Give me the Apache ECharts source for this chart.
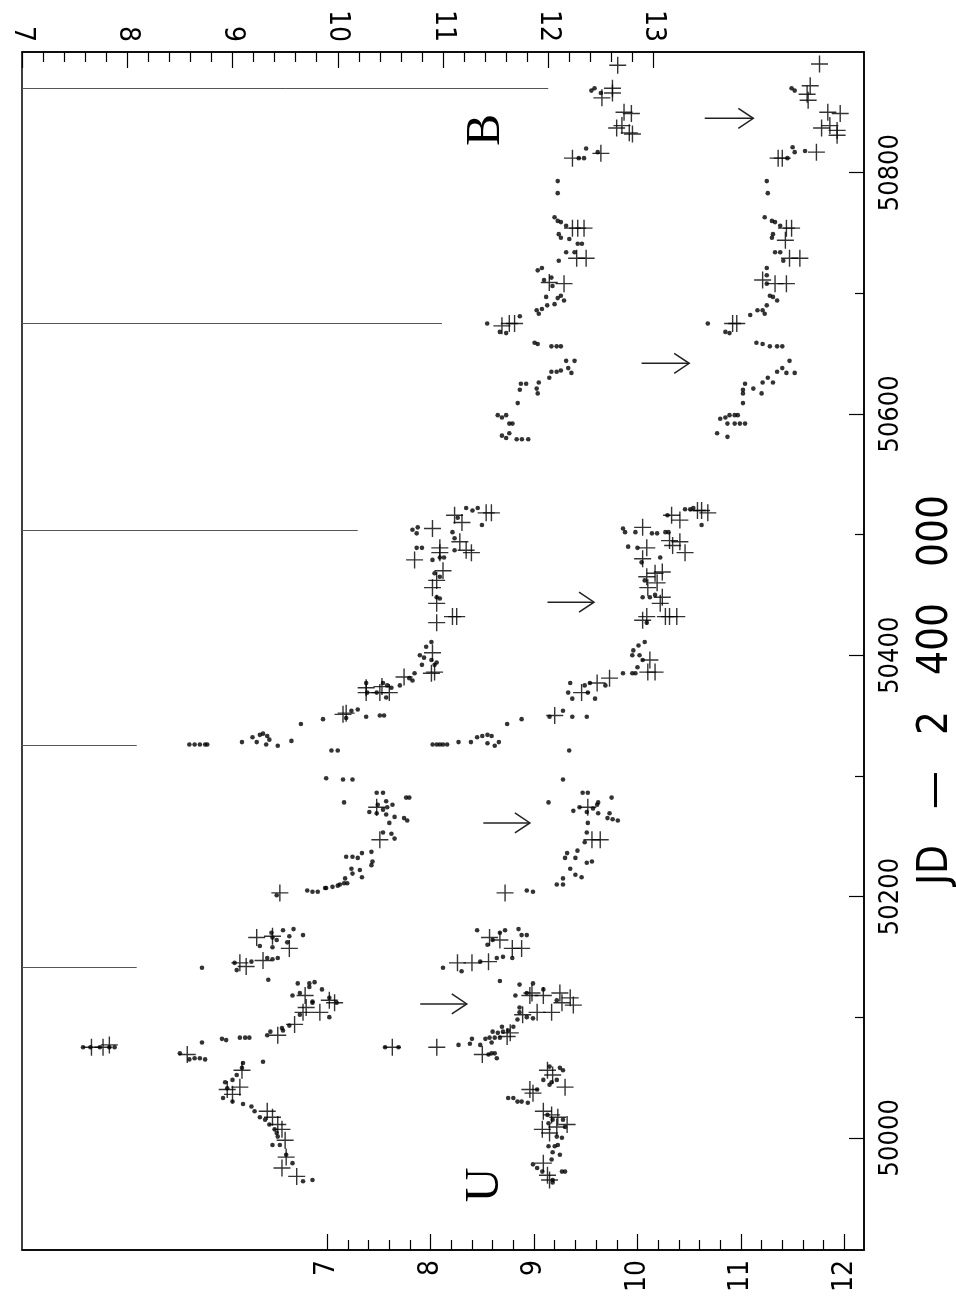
<!DOCTYPE html>
<html>
<head>
<meta charset="utf-8">
<title>U and B light curves</title>
<script src="https://cdn.jsdelivr.net/npm/echarts@6/dist/echarts.min.js"></script>
<style>
html, body { margin: 0; padding: 0; background: #fff; }
#chart-container { width: 956px; height: 1299px; }
</style>
</head>
<body>
<div id="chart-container"></div>
<script>
// plot is drawn on its side: JD - 2400000 runs up the right edge,
// magnitudes run left -> right (U on the bottom axis, B on the top axis)
const jdTicks = [50000, 50200, 50400, 50600, 50800];
const jdMinorTicks = [50100, 50300, 50500, 50700];
const uTicks = [7, 8, 9, 10, 11, 12];
const bTicks = [7, 8, 9, 10, 11, 12, 13];

// [B mag, JD - 2400000]
const bDots = [
  [7.58,50075],[7.65,50075],[7.74,50075],[7.83,50075],[7.88,50075],
  [8.50,50070],[8.59,50065],[8.64,50066],[8.69,50066],[8.74,50065],
  [8.71,50079],[8.90,50082],[8.94,50081],[9.07,50083],[9.12,50083],[9.16,50083],
  [9.33,50085],[9.36,50088],[9.47,50091],[9.48,50089],[9.54,50093],[9.29,50063],
  [9.10,50062],[9.09,50058],[9.04,50052],[9.00,50048],[8.93,50046],[8.95,50041],[8.91,50033],[9.00,50030],[9.10,50028],[9.18,50026],
  [9.21,50022],[9.26,50017],[9.31,50015],[9.35,50011],[9.40,50007],[9.42,50004],[9.43,50001],[9.38,49994],[9.45,49994],
  [9.51,49986],[9.57,49979],[9.67,49964],[9.76,49965],
  [9.64,50102],[9.76,50112],[9.99,50112],[9.92,50100],
  [9.42,50201],[9.71,50205],[9.76,50204],[9.81,50204],[9.89,50207],[9.95,50208],[10.00,50209],
  [9.26,50159],[9.37,50170],[9.38,50166],[9.42,50164],[9.48,50172],[9.54,50167],[9.58,50173],[9.67,50168],[9.38,50158],[9.52,50162],
  [8.71,50141],[9.04,50139],[9.02,50145],[9.18,50146],[9.33,50149],[9.38,50148],[9.43,50149],[9.34,50131],
  [9.62,50128],[9.73,50128],[9.78,50129],[9.73,50125],[9.57,50118],[9.64,50120],[9.85,50123],[9.76,50113],[9.92,50116],
  [10.46,50365],[10.13,50354],[10.19,50355],[10.27,50349],[10.40,50350],[10.44,50350],[10.08,50348],
  [9.86,50347],[9.65,50343],[9.56,50329],
  [9.19,50332],[9.26,50334],[9.29,50335],[9.33,50333],[9.35,50330],[9.23,50328],[9.32,50326],[9.43,50325],[9.09,50328],
  [8.59,50326],[8.64,50326],[8.69,50326],[8.74,50326],[8.76,50326],
  [9.94,50321],[10.00,50321],[9.89,50298],[10.05,50297],[10.14,50297],[10.06,50278],
  [10.37,50286],[10.43,50286],[10.46,50279],[10.38,50276],[10.30,50270],[10.37,50269],[10.43,50272],[10.47,50274],
  [10.52,50276],[10.46,50268],[10.54,50266],[10.49,50261],[10.65,50282],[10.68,50282],[10.63,50265],[10.66,50263],
  [10.43,50253],[10.51,50252],[10.54,50248],
  [10.32,50237],[10.23,50236],[10.08,50233],[10.14,50233],[10.19,50232],[10.33,50229],[10.32,50226],
  [10.13,50223],[10.21,50222],[10.14,50219],[10.23,50216],[10.07,50215],[10.06,50211],[10.09,50211],[10.02,50210],[9.88,50207],
  [11.22,50522],[11.28,50520],[11.33,50522],[11.37,50508],
  [11.14,50514],[10.71,50504],[10.76,50506],[10.75,50501],
  [11.09,50502],[11.11,50497],[11.11,50487],
  [10.75,50489],[10.80,50489],[10.90,50479],[10.97,50481],[11.01,50481],
  [10.92,50468],[10.97,50465],[10.94,50448],[10.97,50447],
  [10.89,50411],[10.84,50407],[10.78,50400],[10.82,50398],[10.89,50396],[10.94,50394],[10.92,50392],[10.80,50392],
  [10.68,50381],[10.73,50385],[10.71,50379],[10.59,50375],
  [10.27,50377],[10.28,50369],[10.43,50377],[10.47,50375],[10.51,50373],[10.37,50369],
  [12.41,50868],[12.44,50870],[12.50,50866],
  [12.29,50812],[12.34,50812],[12.36,50820],[12.47,50817],
  [12.09,50793],[12.09,50783],
  [12.06,50763],[12.09,50760],[12.12,50759],[12.17,50756],[12.10,50749],[12.12,50746],[12.20,50745],[12.28,50741],[12.32,50741],
  [12.17,50734],[12.25,50734],[12.10,50727],
  [11.90,50719],[11.94,50721],[11.96,50711],[12.03,50713],[12.04,50706],
  [11.98,50697],[12.09,50696],[12.15,50694],[12.12,50698],[12.06,50691],[11.99,50690],[11.94,50687],[11.89,50686],[11.91,50683],
  [11.42,50675],[11.54,50668],[11.60,50667],[11.73,50681],
  [11.87,50659],[11.90,50658],[12.03,50656],[12.08,50656],[12.12,50656],
  [12.17,50644],[12.25,50644],[12.03,50635],[12.08,50635],[12.12,50636],[12.19,50638],[12.22,50634],[12.01,50630],
  [11.74,50625],[11.79,50625],[11.91,50626],[11.89,50621],[11.73,50620],[11.90,50617],[11.71,50609],
  [11.52,50599],[11.56,50597],[11.60,50599],[11.63,50592],[11.66,50592],[11.56,50582],[11.60,50580],[11.63,50584],
  [11.70,50579],[11.75,50579],[11.81,50579]
];

const bPlus = [
  [7.66,50075],[7.77,50075],[7.83,50077],[8.57,50069],[9.43,50085],[9.59,50094],
  [9.09,50056],[9.07,50042],[8.95,50040],[9.00,50036],
  [9.33,50022],[9.38,50017],[9.43,50011],[9.47,50007],[9.50,49998],
  [9.51,49984],[9.47,49975],[9.61,49968],[9.83,50104],[9.67,50104],
  [9.45,50203],[9.23,50166],[9.38,50167],[9.54,50157],[9.07,50145],[9.13,50142],[9.29,50147],
  [9.69,50118],[9.92,50114],[9.97,50112],[9.70,50108],
  [10.27,50369],[10.40,50369],[10.49,50369],[10.05,50351],[10.37,50274],[10.40,50247],
  [11.41,50518],[11.46,50518],[11.11,50516],[11.18,50510],[10.90,50505],[11.16,50494],[11.22,50487],[11.27,50485],
  [10.97,50489],[10.97,50485],[10.73,50479],[11.00,50470],[10.94,50462],[10.90,50456],[10.94,50443],
  [11.09,50432],[11.13,50432],[10.94,50427],[10.90,50402],[10.92,50386],[10.89,50385],[10.63,50382],
  [10.42,50374],[10.27,50373],[10.08,50352],
  [12.66,50889],[12.51,50862],[12.61,50870],[12.61,50866],[12.72,50850],[12.79,50849],[12.65,50837],[12.70,50839],
  [12.77,50833],[12.80,50832],[12.23,50812],[12.50,50816],[12.23,50754],[12.28,50754],[12.34,50754],
  [12.27,50729],[12.36,50729],[12.01,50709],[12.15,50708],[11.63,50675],[11.68,50675],[11.56,50673]
];

// [U mag, JD - 2400000]
const uDots = [
  [7.56,50075],[7.69,50075],
  [8.27,50077],[8.38,50078],[8.48,50077],[8.40,50082],
  [8.56,50069],[8.59,50070],[8.64,50066],[8.62,50070],
  [8.53,50082],[8.57,50083],[8.62,50083],[8.67,50083],[8.59,50079],[8.60,50088],[8.65,50087],
  [8.70,50088],[8.75,50089],[8.69,50092],[8.80,50092],[8.84,50098],
  [8.82,50118],[8.86,50104],[8.93,50100],[8.99,50099],[8.86,50108],[9.22,50114],
  [9.15,50059],[9.25,50058],[9.28,50056],[9.09,50048],[9.17,50046],[9.22,50048],[9.15,50044],
  [9.03,50040],[8.75,50033],[8.80,50033],[8.84,50030],[8.88,50030],[8.94,50029],
  [9.13,50019],[9.18,50015],[9.28,50015],[9.30,50009],[9.14,50012],[9.22,50001],[9.27,50000],
  [9.14,49993],[9.20,49993],[9.23,49994],[9.18,49988],[9.25,49986],[9.17,49982],
  [8.99,49978],[9.03,49975],[9.08,49972],[9.18,49965],[9.27,49972],[9.30,49972],[9.18,49963],
  [9.15,50349],[9.28,50354],[9.37,50349],[9.51,50349],[8.88,50347],[8.74,50343],
  [8.02,50326],[8.06,50326],[8.09,50326],[8.12,50326],[8.16,50326],[8.27,50328],[8.39,50328],
  [8.45,50332],[8.50,50333],[8.55,50334],[8.59,50333],[8.55,50327],[8.62,50325],[8.66,50328],
  [9.34,50321],[9.28,50297],
  [9.14,50278],[9.47,50286],[9.52,50286],[9.75,50282],[9.38,50271],[9.44,50274],[9.51,50270],[9.62,50278],
  [9.61,50276],[9.57,50273],[9.62,50269],[9.71,50265],[9.76,50264],[9.81,50263],[9.73,50269],[9.52,50261],
  [9.51,50253],[9.49,50245],
  [9.32,50236],[9.42,50238],[9.30,50232],[9.40,50232],[9.51,50228],[9.56,50229],
  [9.35,50223],[9.28,50215],[9.40,50218],[9.46,50216],[9.22,50210],[9.28,50210],
  [8.93,50205],[8.99,50204],
  [8.45,50172],[8.67,50170],[8.72,50172],[8.85,50173],[8.88,50168],[8.93,50168],[8.55,50160],[8.60,50164],
  [8.12,50141],[8.30,50138],[8.48,50146],[8.64,50149],[8.70,50150],[8.79,50149],
  [8.67,50130],[8.86,50127],[8.99,50128],[8.93,50120],[9.09,50123],
  [10.46,50521],[10.51,50521],[10.54,50522],[10.62,50508],[10.29,50516],
  [9.86,50505],[9.88,50502],[9.98,50502],[10.14,50501],[10.19,50501],[10.27,50502],[10.30,50502],
  [9.91,50490],[10.00,50489],[10.04,50477],[10.22,50481],
  [10.07,50462],[10.05,50448],[10.12,50448],[10.17,50450],[10.09,50427],
  [10.07,50411],[10.01,50408],[9.96,50404],[9.95,50400],[10.02,50400],[10.05,50396],[10.00,50390],
  [9.86,50385],[9.95,50385],[9.98,50385],[9.69,50375],
  [9.35,50377],[9.33,50369],[9.37,50364],[9.49,50375],[9.52,50369],[9.59,50364],[9.54,50377],
  [11.49,50870],[11.52,50868],
  [11.45,50812],[11.50,50821],[11.52,50817],[11.62,50818],
  [11.25,50793],[11.26,50783],
  [11.23,50763],[11.30,50760],[11.33,50759],[11.38,50756],[11.31,50749],[11.30,50746],
  [11.33,50734],[11.38,50734],[11.41,50727],
  [11.25,50721],[11.25,50715],[11.25,50708],
  [11.28,50698],[11.31,50697],[11.35,50694],[11.25,50690],[11.21,50686],[11.23,50683],[11.16,50686],[11.09,50682],
  [10.68,50675],[10.85,50668],[10.89,50667],
  [11.15,50659],[11.21,50658],[11.28,50656],[11.35,50656],[11.40,50656],
  [11.47,50644],[11.35,50635],[11.40,50638],[11.44,50634],[11.52,50634],[11.26,50630],[11.31,50626],[11.21,50626],
  [11.04,50625],[11.02,50620],[11.02,50617],[11.12,50621],[11.20,50617],[11.02,50609],
  [10.80,50596],[10.85,50597],[10.89,50599],[10.94,50599],[10.97,50599],[10.87,50592],[10.94,50592],
  [10.99,50592],[11.04,50592],[10.77,50584],[10.87,50581]
];

const uPlus = [
  [7.63,50075],[8.06,50075],[8.50,50069],[8.74,50084],[8.77,50087],
  [8.89,50102],[9.03,50104],[9.17,50104],[9.27,50112],[9.38,50110],[8.96,50118],[9.09,50118],
  [9.13,50056],[9.18,50052],[9.30,50042],[8.99,50037],[8.96,50040],
  [9.09,50022],[9.17,50019],[9.23,50017],[9.32,50011],[9.08,50007],[9.15,50004],[9.22,50009],
  [9.09,49979],[9.13,49969],[9.15,49965],
  [9.20,50350],[9.52,50274],[9.56,50247],[9.64,50247],[8.72,50203],
  [8.57,50166],[8.67,50164],[8.88,50157],[8.79,50157],[8.26,50145],[8.40,50145],[8.56,50146],
  [8.98,50120],[9.25,50120],[9.35,50116],
  [10.58,50520],[10.62,50520],[10.68,50518],[10.33,50516],[10.41,50512],[10.05,50506],
  [10.31,50495],[10.41,50494],[10.46,50485],[10.34,50491],[10.09,50489],[10.05,50480],
  [10.09,50465],[10.17,50468],[10.24,50469],[10.10,50456],[10.19,50460],[10.24,50448],[10.22,50443],
  [10.05,50429],[10.09,50432],[10.27,50432],[10.31,50432],[10.38,50432],
  [10.12,50396],[10.10,50386],[10.17,50386],[9.73,50381],[9.46,50369],[9.61,50377],
  [11.76,50890],[11.67,50872],[11.64,50865],[11.65,50860],
  [11.84,50850],[11.96,50849],[11.78,50837],[11.86,50839],[11.93,50835],[11.93,50831],
  [11.36,50812],[11.40,50812],[11.73,50817],[11.44,50754],[11.49,50754],[11.43,50744],
  [11.47,50729],[11.57,50729],[11.21,50711],[11.33,50708],[11.44,50708],[10.92,50675],[10.96,50675]
];

// arrows: [JD, U start, U end]
const arrows = [
  [50111, 7.90, 8.35],
  [50261, 8.51, 8.96],
  [50444, 9.13, 9.58],
  [50642, 10.04, 10.50],
  [50845, 10.65, 11.12]
];

// marker lines hanging from the B = 7 frame: [JD, B where the line stops]
const epochLines = [
  [50870, 12.00],
  [50675, 10.99],
  [50504, 10.19],
  [50325, 8.09],
  [50141, 8.09]
];

const uRange = [4.05, 12.19];
const bRange = [7, 15];
const jdRange = [49907, 50900];

// 0.2 mag minor ticks between the labelled ones
function minorOf(ticks) {
  const out = [];
  for (let i = 0; i < ticks.length - 1; i++) {
    for (let k = 1; k < 5; k++) out.push(+(ticks[i] + k * 0.2).toFixed(1));
  }
  return out;
}

const FONT = '"DejaVu Sans Condensed", "Liberation Sans Narrow", sans-serif';
const PLUS = 'path://M0,8L16,8M8,0L8,16';

const lineStyle = { color: '#000', width: 1.5 };
const tickStyle = { color: '#000', width: 1.2 };

function magAxis(pos, range, ticks) {
  return {
    type: 'value', position: pos, min: range[0], max: range[1],
    axisLine: { show: true, onZero: false, lineStyle: lineStyle },
    axisTick: { show: true, inside: true, length: 16, customValues: ticks, lineStyle: tickStyle },
    axisLabel: { show: true, customValues: ticks, rotate: 90, margin: 10, fontSize: 28, fontFamily: FONT, color: '#000' },
    splitLine: { show: false }
  };
}

function minorAxis(pos, range, ticks) {
  return {
    type: 'value', position: pos, min: range[0], max: range[1],
    axisLine: { show: false },
    axisTick: { show: true, inside: true, length: 10, customValues: ticks, lineStyle: tickStyle },
    axisLabel: { show: false },
    splitLine: { show: false }
  };
}

const options = {
  animation: false,
  backgroundColor: '#fff',
  grid: {
    left: 22, right: 92, top: 52, bottom: 49,
    show: true, borderColor: '#000', borderWidth: 1.5,
    containLabel: false, outerBoundsMode: 'none'
  },
  xAxis: [
    magAxis('bottom', uRange, uTicks),
    magAxis('top', bRange, bTicks),
    minorAxis('bottom', uRange, minorOf(uTicks)),
    minorAxis('top', bRange, minorOf(bTicks))
  ],
  yAxis: [
    {
      type: 'value', position: 'right', min: jdRange[0], max: jdRange[1],
      axisLine: { show: true, onZero: false, lineStyle: lineStyle },
      axisTick: { show: true, inside: true, length: 15, customValues: jdTicks, lineStyle: tickStyle },
      axisLabel: {
        show: true, customValues: jdTicks, rotate: 90, margin: 13, fontSize: 27, fontFamily: FONT, color: '#000',
        formatter: v => String(v)
      },
      splitLine: { show: false }
    },
    {
      type: 'value', position: 'right', min: jdRange[0], max: jdRange[1],
      axisLine: { show: false },
      axisTick: { show: true, inside: true, length: 9, customValues: jdMinorTicks, lineStyle: tickStyle },
      axisLabel: { show: false },
      splitLine: { show: false }
    }
  ],
  series: [
    {
      name: 'B', type: 'scatter', xAxisIndex: 1, yAxisIndex: 0,
      data: bDots, symbol: 'circle', symbolSize: 4.6,
      itemStyle: { color: '#000' },
      markLine: {
        silent: true, symbol: 'none', label: { show: false },
        lineStyle: { color: '#555', width: 1, type: 'solid' },
        data: epochLines.map(e => [{ coord: [bRange[0], e[0]] }, { coord: [e[1], e[0]] }])
      }
    },
    {
      name: 'B +', type: 'scatter', xAxisIndex: 1, yAxisIndex: 0,
      data: bPlus, symbol: PLUS, symbolSize: 17,
      itemStyle: { color: 'rgba(0,0,0,0)', borderColor: '#000', borderWidth: 1.4 }
    },
    {
      name: 'U', type: 'scatter', xAxisIndex: 0, yAxisIndex: 0,
      data: uDots, symbol: 'circle', symbolSize: 4.6,
      itemStyle: { color: '#000' }
    },
    {
      name: 'U +', type: 'scatter', xAxisIndex: 0, yAxisIndex: 0,
      data: uPlus, symbol: PLUS, symbolSize: 17,
      itemStyle: { color: 'rgba(0,0,0,0)', borderColor: '#000', borderWidth: 1.4 }
    },
    {
      name: 'arrows', type: 'custom', xAxisIndex: 0, yAxisIndex: 0,
      data: arrows, encode: { x: [1, 2], y: 0 },
      renderItem: function (params, api) {
        const a = api.coord([api.value(1), api.value(0)]);
        const b = api.coord([api.value(2), api.value(0)]);
        return {
          type: 'group',
          children: [
            { type: 'line', shape: { x1: a[0], y1: a[1], x2: b[0], y2: b[1] },
              style: { stroke: '#222', lineWidth: 1.5 } },
            { type: 'polyline', shape: { points: [[b[0] - 15, b[1] - 10], [b[0], b[1]], [b[0] - 15, b[1] + 10]] },
              style: { stroke: '#222', fill: null, lineWidth: 1.5 } }
          ]
        };
      }
    }
  ],
  graphic: [
    { type: 'text', x: 485, y: 1185, rotation: Math.PI / 2,
      style: { text: 'U', font: '48px "Liberation Serif", serif', fill: '#000', align: 'center', verticalAlign: 'middle' } },
    { type: 'text', x: 486, y: 130, rotation: Math.PI / 2,
      style: { text: 'B', font: '48px "Liberation Serif", serif', fill: '#000', align: 'center', verticalAlign: 'middle' } },
    { type: 'text', x: 936, y: 690, rotation: Math.PI / 2,
      style: { text: 'JD   \u2014   2   400   000', font: '42px ' + FONT, fill: '#000', align: 'center', verticalAlign: 'middle' } }
  ]
};

const chart = echarts.init(document.getElementById('chart-container'));
chart.setOption(options);
</script>
</body>
</html>
